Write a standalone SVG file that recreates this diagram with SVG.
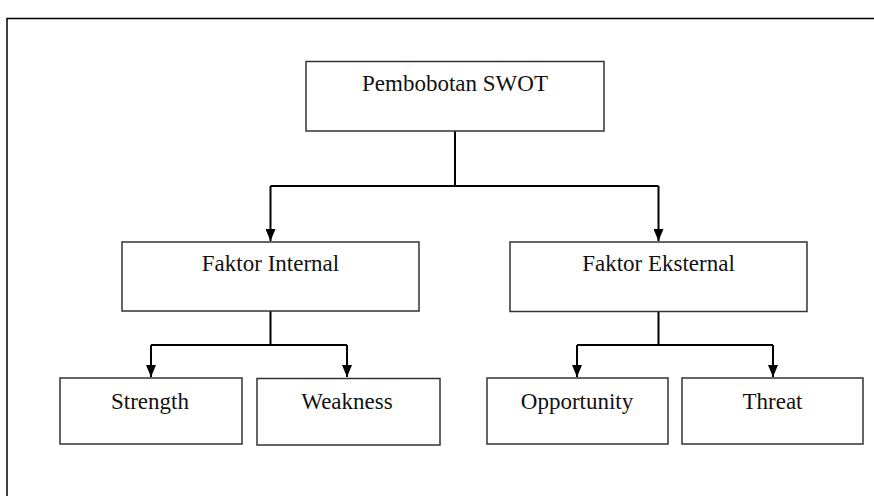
<svg xmlns="http://www.w3.org/2000/svg" width="874" height="496" viewBox="0 0 874 496">
<defs>
<style>
.box{fill:#fff;stroke:#333;stroke-width:1.5}
.lbl{font-family:"Liberation Serif","Times New Roman",serif;font-size:23px;fill:#111;text-anchor:middle}
.con{fill:none;stroke:#000;stroke-width:2}
.frame{fill:none;stroke:#000;stroke-width:1.5}
</style>
<marker id="arr" viewBox="0 0 12 10" refX="12" refY="5" markerWidth="12" markerHeight="10" markerUnits="userSpaceOnUse" orient="auto">
<path d="M0,0 L12,5 L0,10 Z" fill="#000"/>
</marker>
</defs>
<path class="frame" d="M7,496 V18.5 H874"/>
<g id="connectors">
<path class="con" d="M455,131 V186"/>
<path class="con" d="M270.5,186 H658.5"/>
<path class="con" d="M270.5,186 V241" marker-end="url(#arr)"/>
<path class="con" d="M658.5,186 V241" marker-end="url(#arr)"/>
<path class="con" d="M270.5,311 V345 M151,345 H347"/>
<path class="con" d="M151,345 V377" marker-end="url(#arr)"/>
<path class="con" d="M347,345 V377" marker-end="url(#arr)"/>
<path class="con" d="M658.5,311 V345 M577,345 H773"/>
<path class="con" d="M577,345 V377" marker-end="url(#arr)"/>
<path class="con" d="M773,345 V377" marker-end="url(#arr)"/>
</g>
<g id="swot">
<rect class="box" x="306" y="61.5" width="298" height="69.5"/>
<text class="lbl" x="455" y="91">Pembobotan SWOT</text>
</g>
<g id="internal">
<rect class="box" x="122" y="242" width="297" height="69"/>
<text class="lbl" x="270.5" y="271">Faktor Internal</text>
</g>
<g id="eksternal">
<rect class="box" x="510" y="242" width="297" height="69.5"/>
<text class="lbl" x="658.5" y="271">Faktor Eksternal</text>
</g>
<g id="strength">
<rect class="box" x="60" y="378" width="182" height="66"/>
<text class="lbl" x="150" y="409">Strength</text>
</g>
<g id="weakness">
<rect class="box" x="257" y="378.5" width="183" height="66.5"/>
<text class="lbl" x="347" y="409">Weakness</text>
</g>
<g id="opportunity">
<rect class="box" x="487" y="378" width="181" height="66"/>
<text class="lbl" x="577" y="409">Opportunity</text>
</g>
<g id="threat">
<rect class="box" x="682" y="378" width="181" height="66"/>
<text class="lbl" x="772.5" y="409">Threat</text>
</g>
</svg>
